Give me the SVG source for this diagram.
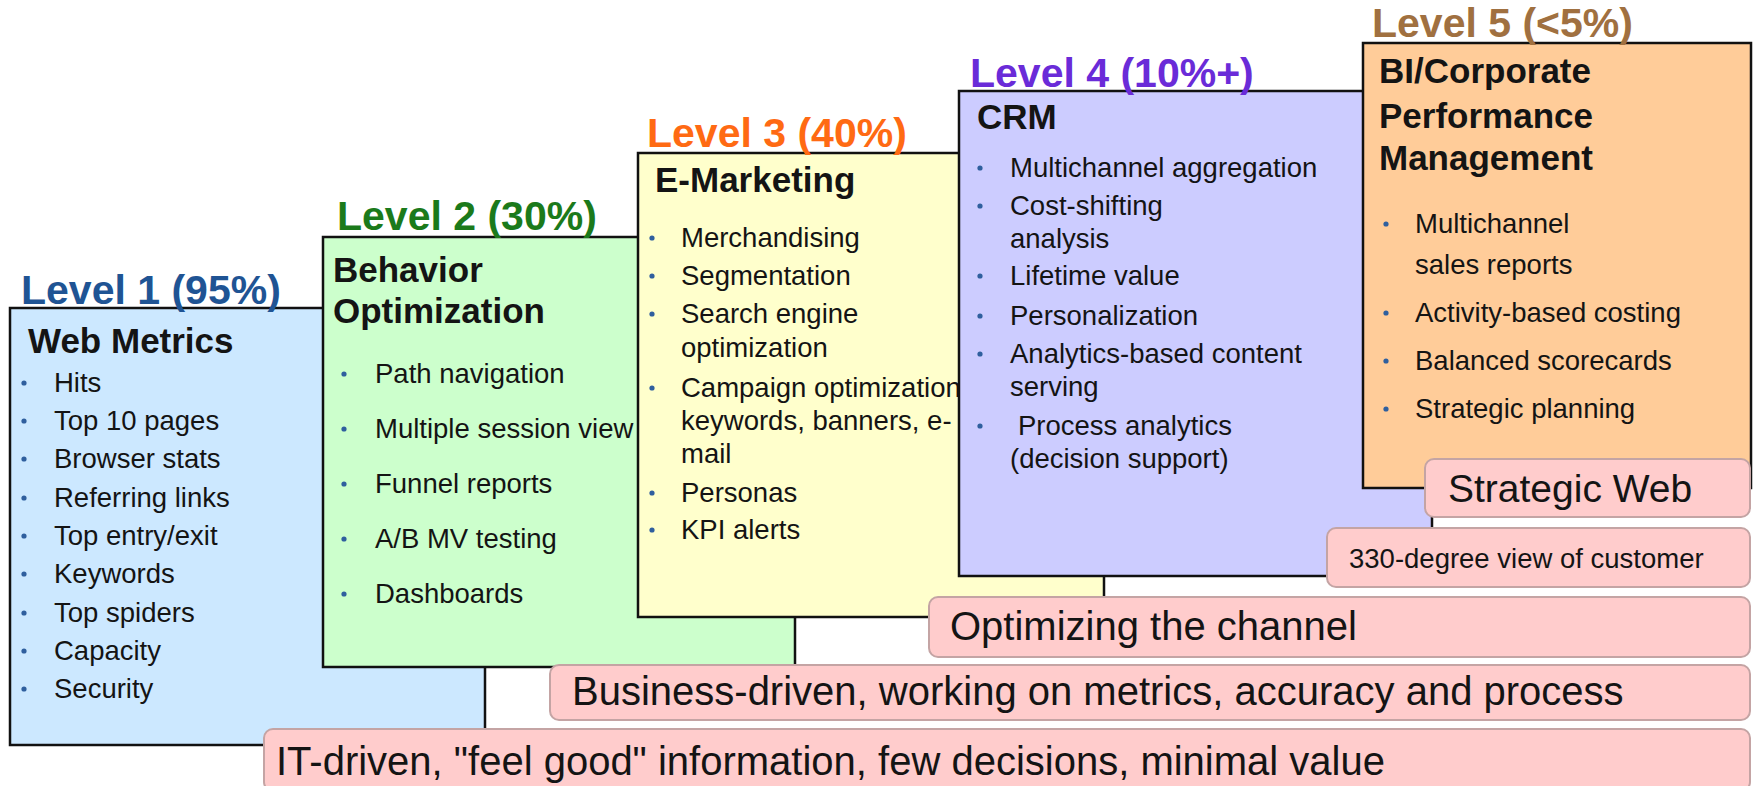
<svg xmlns="http://www.w3.org/2000/svg" width="1754" height="786" viewBox="0 0 1754 786">
<style>
text{font-family:"Liberation Sans",Arial,sans-serif;fill:#141414}
.box{stroke:#111;stroke-width:2.5}
.lvl{font-size:41px;font-weight:bold}
.hd{font-size:35px;font-weight:bold}
.it{font-size:27.5px}
.bul{fill:#2f5f9e}
.pk{fill:#ffcccc;stroke:#c4a4a4;stroke-width:2}
.pt{font-size:40px}
</style>
<rect width="1754" height="786" fill="#ffffff"/>

<g id="level1">
<rect class="box" x="10" y="308" width="475" height="437" fill="#cce8ff"/>
<text class="lvl" x="21" y="304" style="fill:#1f5494">Level 1 (95%)</text>
<text class="hd" x="28" y="353">Web Metrics</text>
<g class="bul"><circle cx="24" cy="383" r="2.6"/><circle cx="24" cy="421" r="2.6"/><circle cx="24" cy="459" r="2.6"/><circle cx="24" cy="498" r="2.6"/><circle cx="24" cy="536" r="2.6"/><circle cx="24" cy="574" r="2.6"/><circle cx="24" cy="613" r="2.6"/><circle cx="24" cy="651" r="2.6"/><circle cx="24" cy="689" r="2.6"/></g>
<text class="it" x="54" y="392">Hits</text>
<text class="it" x="54" y="430">Top 10 pages</text>
<text class="it" x="54" y="468">Browser stats</text>
<text class="it" x="54" y="507">Referring links</text>
<text class="it" x="54" y="545">Top entry/exit</text>
<text class="it" x="54" y="583">Keywords</text>
<text class="it" x="54" y="622">Top spiders</text>
<text class="it" x="54" y="660">Capacity</text>
<text class="it" x="54" y="698">Security</text>
</g>

<g id="level2">
<rect class="box" x="323" y="237" width="472" height="430" fill="#ccffcc"/>
<text class="lvl" x="337" y="230" style="fill:#1b7a1b">Level 2 (30%)</text>
<text class="hd" x="333" y="282">Behavior</text>
<text class="hd" x="333" y="323">Optimization</text>
<g class="bul"><circle cx="344" cy="374" r="2.6"/><circle cx="344" cy="429" r="2.6"/><circle cx="344" cy="484" r="2.6"/><circle cx="344" cy="539" r="2.6"/><circle cx="344" cy="594" r="2.6"/></g>
<text class="it" x="375" y="383">Path navigation</text>
<text class="it" x="375" y="438">Multiple session view</text>
<text class="it" x="375" y="493">Funnel reports</text>
<text class="it" x="375" y="548">A/B MV testing</text>
<text class="it" x="375" y="603">Dashboards</text>
</g>

<g id="level3">
<rect class="box" x="638" y="153" width="466" height="464" fill="#ffffcc"/>
<text class="lvl" x="647" y="147" style="fill:#ff6a13">Level 3 (40%)</text>
<text class="hd" x="655" y="192">E-Marketing</text>
<g class="bul"><circle cx="652" cy="238" r="2.6"/><circle cx="652" cy="276" r="2.6"/><circle cx="652" cy="314" r="2.6"/><circle cx="652" cy="388" r="2.6"/><circle cx="652" cy="493" r="2.6"/><circle cx="652" cy="530" r="2.6"/></g>
<text class="it" x="681" y="247">Merchandising</text>
<text class="it" x="681" y="285">Segmentation</text>
<text class="it" x="681" y="323">Search engine</text>
<text class="it" x="681" y="357">optimization</text>
<text class="it" x="681" y="397">Campaign optimization</text>
<text class="it" x="681" y="430">keywords, banners, e-</text>
<text class="it" x="681" y="463">mail</text>
<text class="it" x="681" y="502">Personas</text>
<text class="it" x="681" y="539">KPI alerts</text>
</g>

<g id="level4">
<rect class="box" x="959" y="91" width="473" height="485" fill="#ccccff"/>
<text class="lvl" x="970" y="87" style="fill:#6a2bd8">Level 4 (10%+)</text>
<text class="hd" x="977" y="129">CRM</text>
<g class="bul"><circle cx="980" cy="168" r="2.6"/><circle cx="980" cy="206" r="2.6"/><circle cx="980" cy="276" r="2.6"/><circle cx="980" cy="316" r="2.6"/><circle cx="980" cy="354" r="2.6"/><circle cx="980" cy="426" r="2.6"/></g>
<text class="it" x="1010" y="177">Multichannel aggregation</text>
<text class="it" x="1010" y="215">Cost-shifting</text>
<text class="it" x="1010" y="248">analysis</text>
<text class="it" x="1010" y="285">Lifetime value</text>
<text class="it" x="1010" y="325">Personalization</text>
<text class="it" x="1010" y="363">Analytics-based content</text>
<text class="it" x="1010" y="396">serving</text>
<text class="it" x="1018" y="435">Process analytics</text>
<text class="it" x="1010" y="468">(decision support)</text>
</g>

<g id="level5">
<rect class="box" x="1363" y="43" width="388" height="445" fill="#ffcc99"/>
<text class="lvl" x="1372" y="37" style="fill:#a07040">Level 5 (&lt;5%)</text>
<text class="hd" x="1379" y="83">BI/Corporate</text>
<text class="hd" x="1379" y="128">Performance</text>
<text class="hd" x="1379" y="170">Management</text>
<g class="bul"><circle cx="1386" cy="224" r="2.6"/><circle cx="1386" cy="313" r="2.6"/><circle cx="1386" cy="361" r="2.6"/><circle cx="1386" cy="409" r="2.6"/></g>
<text class="it" x="1415" y="233">Multichannel</text>
<text class="it" x="1415" y="274">sales reports</text>
<text class="it" x="1415" y="322">Activity-based costing</text>
<text class="it" x="1415" y="370">Balanced scorecards</text>
<text class="it" x="1415" y="418">Strategic planning</text>
</g>

<g id="bands">
<g id="band-it">
<rect class="pk" x="264" y="729" width="1486" height="62" rx="9"/>
<text class="pt" x="276" y="775">IT-driven, "feel good" information, few decisions, minimal value</text>
</g>
<g id="band-business">
<rect class="pk" x="550" y="665" width="1200" height="55" rx="9"/>
<text class="pt" x="572" y="705">Business-driven, working on metrics, accuracy and process</text>
</g>
<g id="band-channel">
<rect class="pk" x="929" y="597" width="821" height="60" rx="9"/>
<text class="pt" x="950" y="640">Optimizing the channel</text>
</g>
<g id="band-330">
<rect class="pk" x="1327" y="528" width="423" height="59" rx="9"/>
<text class="it" x="1349" y="568">330-degree view of customer</text>
</g>
<g id="band-strategic">
<rect class="pk" x="1425" y="459" width="325" height="58" rx="9"/>
<text class="pt" x="1448" y="502" style="font-size:39px">Strategic Web</text>
</g>
</g>
</svg>
